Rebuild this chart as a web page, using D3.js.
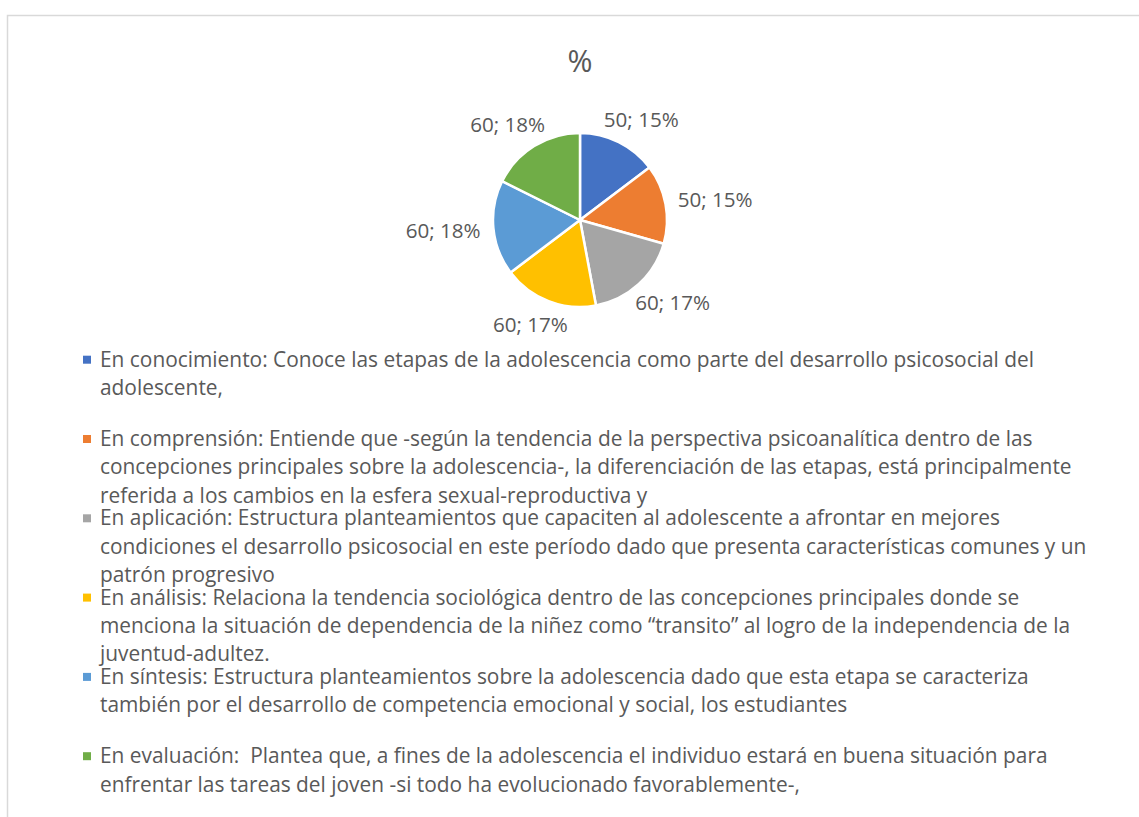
<!DOCTYPE html>
<html><head><meta charset="utf-8">
<script src="https://cdn.jsdelivr.net/npm/d3@7"></script>
<style>
html,body{margin:0;padding:0;background:#fff;}
svg{display:block;}
text{white-space:pre;}
</style></head>
<body>
<svg id="c" width="1139" height="817"></svg>
<script>
const title = "%";
const values = [50, 50, 60, 60, 60, 60];
const pctLabels = ["15%", "15%", "17%", "17%", "18%", "18%"];
const colors = ["#4472C4", "#ED7D31", "#A5A5A5", "#FFC000", "#5B9BD5", "#70AD47"];
const categories = [
  ["En conocimiento: Conoce las etapas de la adolescencia como parte del desarrollo psicosocial del",
   "adolescente,"],
  ["En comprensión: Entiende que -según la tendencia de la perspectiva psicoanalítica dentro de las",
   "concepciones principales sobre la adolescencia-, la diferenciación de las etapas, está principalmente",
   "referida a los cambios en la esfera sexual-reproductiva y"],
  ["En aplicación: Estructura planteamientos que capaciten al adolescente a afrontar en mejores",
   "condiciones el desarrollo psicosocial en este período dado que presenta características comunes y un",
   "patrón progresivo"],
  ["En análisis: Relaciona la tendencia sociológica dentro de las concepciones principales donde se",
   "menciona la situación de dependencia de la niñez como “transito” al logro de la independencia de la",
   "juventud-adultez."],
  ["En síntesis: Estructura planteamientos sobre la adolescencia dado que esta etapa se caracteriza",
   "también por el desarrollo de competencia emocional y social, los estudiantes"],
  ["En evaluación:  Plantea que, a fines de la adolescencia el individuo estará en buena situación para",
   "enfrentar las tareas del joven -si todo ha evolucionado favorablemente-,"]
];

const FONT = "'Open Sans', sans-serif";
const TXT = "#595959";
const svg = d3.select("#c");

// measure helper: font size giving a target width for a string
function fitSize(str, targetW, family) {
  const t = svg.append("text").attr("font-family", family).attr("font-size", 20).text(str);
  const w = t.node().getComputedTextLength();
  t.remove();
  return 20 * targetW / w;
}

// chart frame
svg.append("rect").attr("x", 7.5).attr("y", 15.5).attr("width", 1140).attr("height", 820)
  .attr("fill", "#fff").attr("stroke", "#D9D9D9").attr("stroke-width", 1.5);

// title
svg.append("text").attr("x", 580).attr("y", 72).attr("text-anchor", "middle")
  .attr("font-family", FONT).attr("font-size", fitSize(title, 25, FONT)).attr("fill", TXT).text(title);

// pie
const cx = 580, cy = 220, R = 87;
const pie = d3.pie().sort(null).value(d => d)(values);
const arc = d3.arc().innerRadius(0).outerRadius(R);
const g = svg.append("g").attr("transform", `translate(${cx},${cy})`);
g.selectAll("path").data(pie).join("path")
  .attr("d", arc).attr("fill", (d, i) => colors[i])
  .attr("stroke", "#fff").attr("stroke-width", 2.5).attr("stroke-linejoin", "round");

// data labels (outside end)
const gap = 13;
const lblFont = fitSize("60; 18%", 75, FONT);
g.selectAll("text.lbl").data(pie).join("text").attr("class", "lbl")
  .attr("font-family", FONT).attr("font-size", lblFont).attr("fill", TXT)
  .attr("text-anchor", "middle")
  .text((d, i) => `${values[i]}; ${pctLabels[i]}`)
  .each(function (d) {
    const w = this.getComputedTextLength();
    const h = lblFont * 1.15;
    const a = (d.startAngle + d.endAngle) / 2;
    const sx = Math.sin(a), sy = -Math.cos(a);
    const x = (R + gap) * sx + (w / 2) * sx;
    const y = (R + gap) * sy + (h / 2) * sy;
    d3.select(this).attr("x", x).attr("y", y + lblFont * 0.35);
  });

// legend
const legX = 83, textX = 100, firstBase = 366.7, entryStep = 79.3, lineStep = 28.3;
const legFont = fitSize(categories[0][0], 935, FONT);
const lg = svg.append("g");
categories.forEach((lines, i) => {
  const base = firstBase + i * entryStep;
  lg.append("rect").attr("x", legX).attr("y", base - 11).attr("width", 8).attr("height", 8)
    .attr("fill", colors[i]);
  const t = lg.append("text").attr("font-family", FONT).attr("font-size", legFont).attr("fill", TXT);
  lines.forEach((ln, j) => {
    t.append("tspan").attr("x", textX).attr("y", base + j * lineStep).text(ln);
  });
});
</script>
</body></html>
